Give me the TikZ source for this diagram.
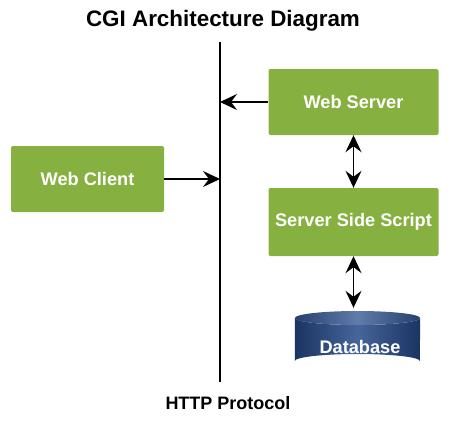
\documentclass[tikz,border=0pt]{standalone}
\usepackage{fontspec}
\setmainfont{Liberation Sans}
\usetikzlibrary{arrows.meta}
\definecolor{boxgreen}{HTML}{86B03F}
\definecolor{dbdark}{HTML}{1B3461}
\definecolor{dbmid}{HTML}{45659B}
\definecolor{dbtopc}{HTML}{263F6E}
\begin{document}
\begin{tikzpicture}[x=1pt,y=-1pt,
 box/.style={fill=boxgreen, rounded corners=2pt, text=white, font=\fontsize{18.2}{21}\selectfont\bfseries, inner sep=0},
 tip/.tip={Stealth[length=17pt,width=16pt,inset=6pt]},
 arr/.style={line width=1.8pt, -tip},
 darr/.style={line width=1.8pt, tip-tip},
 lbl/.style={font=\fontsize{18}{21}\selectfont\bfseries, inner sep=0}]
\useasboundingbox (0,0) rectangle (450,421);
\node[font=\fontsize{22.4}{26}\selectfont\bfseries, inner sep=0] (title) at (223,21) {CGI Architecture Diagram};
\coordinate (ltop) at (220,42);
\coordinate (lbot) at (220,382);
\draw[line width=1.6pt] (ltop) -- (lbot);
\node[box, minimum width=170pt, minimum height=66pt] (ws) at (353.5,102) {Web Server};
\node[box, minimum width=153pt, minimum height=66pt] (wc) at (87.5,179) {Web Client};
\node[box, minimum width=170pt, minimum height=68pt] (sss) at (353.5,222) {Server Side Script};
\node[minimum width=125pt, minimum height=57pt, inner sep=0] (db) at (357.5,339.5) {};
\shade[left color=dbdark, right color=dbdark, middle color=dbmid]
  (db.west |- 0,318) -- (db.west |- 0,361) arc (180:360:62.5 and 7) -- (db.east |- 0,318) arc (0:180:62.5 and 7) -- cycle;
\shade[left color=dbtopc, right color=dbtopc, middle color=dbmid!85!white] (357.5,318) ellipse (62.5 and 7);
\node[box, fill=none] (dbl) at (360,347) {Database};
\draw[arr] (ws.west) -- (ws.west -| ltop);
\draw[arr] (wc.east) -- (wc.east -| ltop);
\draw[darr] (ws.south) -- (sss.north);
\draw[darr, shorten >=3pt] (sss.south) -- (sss.south |- db.north);
\node[lbl] (http) at (228,403) {HTTP Protocol};
\end{tikzpicture}
\end{document}
